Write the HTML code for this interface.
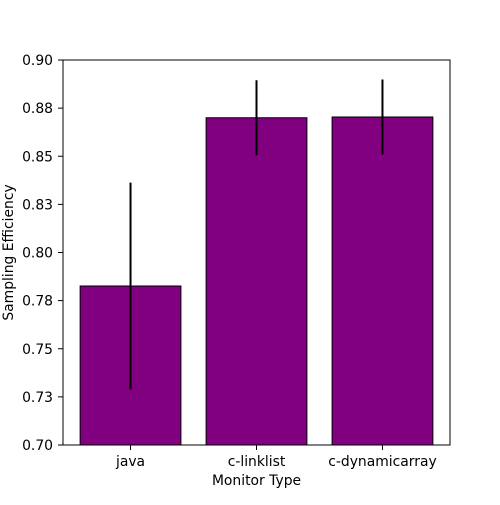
<!DOCTYPE html>
<html><head><meta charset="utf-8"><style>
body{margin:0;background:#fff;}
svg text{font-family:"DejaVu Sans","Liberation Sans",sans-serif;font-size:13.9px;fill:#000;}
</style></head><body>
<svg id="chart" width="500" height="500" xmlns="http://www.w3.org/2000/svg"></svg>
<script>
const categories = ["java", "c-linklist", "c-dynamicarray"];
const values = [0.7826, 0.8700, 0.8704];
const errors = [0.0537, 0.0195, 0.0195];
const yTicks = [0.70, 0.725, 0.75, 0.775, 0.80, 0.825, 0.85, 0.875, 0.90];
const yTickLabels = ["0.70","0.73","0.75","0.78","0.80","0.83","0.85","0.88","0.90"];

const svg = document.getElementById('chart');
const NS = 'http://www.w3.org/2000/svg';
const L = 63, R = 450, T = 60, B = 445;
const yMin = 0.70, yMax = 0.90;
const xMin = -0.536, xMax = 2.536;
const sx = v => L + (v - xMin) / (xMax - xMin) * (R - L);
const sy = v => B - (v - yMin) / (yMax - yMin) * (B - T);
function mk(tag, attrs, parent) {
  const e = document.createElementNS(NS, tag);
  for (const k in attrs) e.setAttribute(k, attrs[k]);
  (parent || svg).appendChild(e);
  return e;
}
const barW = 0.8;
categories.forEach((c, i) => {
  const x0 = sx(i - barW / 2), x1 = sx(i + barW / 2);
  const bar = mk('rect', {x: x0, y: sy(values[i]), width: x1 - x0, height: B - sy(values[i]), fill: '#800080', stroke: '#000', 'stroke-width': 1});
  
  
  const eb = mk('line', {x1: sx(i), x2: sx(i), y1: sy(values[i] + errors[i]), y2: sy(values[i] - errors[i]), stroke: '#000', 'stroke-width': 2});
  
  
  mk('line', {x1: sx(i), x2: sx(i), y1: B, y2: B + 5, stroke: '#000', 'stroke-width': 1});
  const t = mk('text', {x: sx(i), y: B + 21, 'text-anchor': 'middle'});
  t.textContent = c;
  
  
});
yTicks.forEach((v, i) => {
  mk('line', {x1: L - 5, x2: L, y1: sy(v), y2: sy(v), stroke: '#000', 'stroke-width': 1});
  const t = mk('text', {x: L - 10, y: sy(v) + 5, 'text-anchor': 'end'});
  t.textContent = yTickLabels[i];
  
  
});
const frame = mk('rect', {x: L, y: T, width: R - L, height: B - T, fill: 'none', stroke: '#000', 'stroke-width': 1});


const xt = mk('text', {x: (L + R) / 2, y: 485, 'text-anchor': 'middle'});
xt.textContent = 'Monitor Type';


const yt = mk('text', {x: 13, y: (T + B) / 2, 'text-anchor': 'middle', transform: 'rotate(-90 13 ' + ((T + B) / 2) + ')'});
yt.textContent = 'Sampling Efficiency';


</script>
</body></html>
